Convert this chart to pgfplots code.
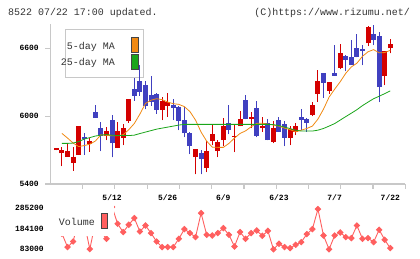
\documentclass[border=0pt]{standalone}
\usepackage{pgfplots}
\pgfplotsset{compat=1.18}
\usepackage{pgfplotstable}
\usepackage{fontspec}
\setmainfont{Liberation Mono}

\definecolor{upred}{RGB}{212,0,0}
\definecolor{downblue}{RGB}{64,64,192}
\definecolor{maorange}{RGB}{240,138,20}
\definecolor{magreen}{RGB}{26,165,26}
\definecolor{volred}{RGB}{255,95,95}
\definecolor{axisgray}{RGB}{200,200,200}
\definecolor{txt}{RGB}{51,51,51}
\definecolor{swatchedge}{RGB}{68,68,68}

% daily candles: index, open, high, low, close
\pgfplotstableread{
i o h l c
0 5700 5714 5700 5714
1 5671 5726 5559 5700
2 5641 5759 5641 5691
3 5588 5724 5517 5641
4 5659 5912 5659 5912
6 5756 5803 5685 5779
9 5826 5903 5788 5868
11 5720 5944 5720 5868
12 5809 5927 5744 5894
13 5953 6150 5941 6150
19 6053 6168 5965 6132
20 6091 6203 5994 6124
25 5638 5709 5486 5709
27 5541 5779 5506 5691
28 5779 5921 5744 5841
29 5691 5788 5638 5771
30 5788 5982 5735 5912
32 5814 5921 5682 5824
33 5912 6044 5912 5974
35 5978 6035 5894 5988
37 5891 5991 5862 5912
39 5771 5956 5762 5897
42 5809 5915 5744 5888
43 5862 5941 5832 5912
46 6009 6124 6000 6097
47 6194 6412 6126 6312
49 6224 6300 6200 6300
51 6424 6635 6415 6556
56 6644 6794 6618 6785
59 6353 6574 6274 6574
60 6600 6679 6556 6635
}\upcandles

\pgfplotstableread{
i o h l c
5 5817 5850 5659 5794
7 6035 6097 5985 5985
8 5894 5944 5691 5826
10 5965 6009 5636 5759
14 6238 6333 6135 6179
15 6309 6450 6179 6212
16 6274 6309 6060 6091
17 6185 6353 6091 6126
18 6194 6203 6020 6053
21 6097 6150 5965 6073
22 6079 6090 5876 5956
23 5965 6079 5815 5847
24 5850 5860 5665 5735
26 5674 5700 5486 5621
31 5938 6097 5841 5876
34 6141 6185 5974 5974
36 6071 6132 5815 5824
38 5941 5974 5788 5788
40 5965 5991 5862 5862
41 5932 5959 5735 5809
44 5991 6062 5876 5965
45 5974 5982 5862 5941
48 6379 6379 6162 6294
50 6379 6629 6356 6356
52 6529 6538 6397 6497
53 6521 6671 6453 6453
54 6600 6724 6521 6521
55 6591 6627 6450 6574
57 6724 6803 6627 6671
58 6706 6741 6124 6256
}\downcandles

% 5-day moving average
\pgfplotstableread{
i v
1 5847
2 5806
3 5762
4 5731
5 5740
6 5752
7 5780
8 5835
9 5830
10 5826
11 5826
12 5836
13 5880
14 5935
15 6018
16 6112
17 6141
18 6154
19 6146
20 6124
21 6110
22 6104
23 6084
24 6040
25 5965
26 5859
27 5779
28 5726
29 5724
30 5724
31 5759
32 5806
33 5847
34 5870
35 5906
36 5936
37 5938
38 5929
39 5921
40 5912
41 5894
42 5881
43 5861
44 5876
45 5891
46 5912
47 5974
48 6062
49 6168
50 6238
51 6304
52 6379
53 6435
54 6468
55 6529
56 6569
57 6588
58 6560
59 6562
60 6582
}\mafive

% 25-day moving average
\pgfplotstableread{
i v
1 5759
2 5759
3 5762
4 5775
5 5797
6 5810
7 5824
8 5832
9 5837
10 5832
11 5828
12 5828
13 5828
14 5832
15 5846
16 5859
17 5872
18 5885
19 5894
20 5903
21 5912
22 5921
23 5927
24 5927
25 5927
26 5927
27 5927
28 5927
29 5927
30 5927
31 5927
32 5927
33 5927
34 5927
35 5927
36 5927
37 5927
38 5927
39 5925
40 5916
41 5903
42 5890
43 5876
44 5868
45 5868
46 5868
47 5876
48 5891
49 5912
50 5934
51 5965
52 5996
53 6026
54 6057
55 6093
56 6124
57 6154
58 6176
59 6199
60 6223
}\matwentyfive

% daily volume
\pgfplotstableread{
i v
0 170000
1 160000
2 93800
3 121500
4 230000
5 215000
6 84000
7 215000
8 170000
9 134800
10 292000
11 208800
12 167800
13 203800
14 236900
15 170800
16 200400
17 162900
18 121500
19 93800
20 93800
21 93800
22 134800
23 182600
24 162900
25 143200
26 261500
27 154500
28 151100
29 162900
30 187600
31 154500
32 96800
33 167800
34 134800
35 162900
36 175700
37 149600
38 174200
39 83000
40 110100
41 93800
42 88900
43 105200
44 118500
45 158000
46 182600
47 281300
48 151100
49 83000
50 151100
51 165900
52 143200
53 138200
54 200400
55 134800
56 138200
57 118500
58 179200
59 129900
60 88900
}\volume

\newcommand{\ticklabelfont}{\fontsize{8}{8}\selectfont\bfseries}
\newcommand{\keyfont}{\fontsize{10}{10}\selectfont}

% candle parts are drawn as vertical error bars with no marks
\pgfplotsset{
  candlepart/.style n args={2}{only marks, mark=*, mark size=0pt,
    mark options={draw=none, fill=none}, forget plot,
    error bars/.cd, y dir=plus, y explicit, error mark=none,
    error bar style={draw=#1, line width=#2}},
}

\begin{document}
\begin{tikzpicture}
\useasboundingbox (0,0) rectangle (420bp,259bp);

% header
\node[anchor=west, inner sep=0pt, text=txt, font=\keyfont] at (8bp,246.3bp) {8522 07/22 17:00 updated.};
\node[anchor=east, inner sep=0pt, text=txt, font=\keyfont] at (410bp,246.3bp) {(C)https://www.rizumu.net/};

% moving-average key (behind the candles)
\draw[axisgray, fill=white, line width=1bp] (65.3bp,181.7bp) rectangle (143.3bp,229bp);
\node[anchor=east, inner sep=0pt, text=txt, font=\keyfont] at (115bp,212.3bp) {5-day MA};
\node[anchor=east, inner sep=0pt, text=txt, font=\keyfont] at (115bp,195.7bp) {25-day MA};
\draw[swatchedge, fill=maorange, line width=1bp] (131bp,206.7bp) rectangle (138.3bp,221.7bp);
\draw[swatchedge, fill=magreen, line width=1bp] (131bp,189.7bp) rectangle (138.3bp,204.7bp);

% price panel
\begin{axis}[
  at={(50.3bp,75bp)}, anchor=south west,
  scale only axis, width=355bp, height=159.7bp,
  xmin=-1.1, xmax=62.7, ymin=5400, ymax=6812,
  axis lines=left,
  axis line style={axisgray, line width=1.2bp, -},
  tick align=outside, major tick length=5bp,
  tick style={axisgray, line width=1.2bp},
  xtick={4.7,10.5,16.3,22.1,27.9,33.7,39.5,45.3,51.1,56.9,62.7},
  xticklabels={},
  ytick={5400,6000,6600}, yticklabels={5400,6000,6600},
  yticklabel style={font=\ticklabelfont, text=black, xshift=-3bp},
  extra x ticks={10,20,30,40,50,60},
  extra x tick labels={5/12,5/26,6/9,6/23,7/7,7/22},
  extra x tick style={major tick length=0pt,
    xticklabel style={font=\ticklabelfont, text=black, anchor=center, yshift=-14bp}},
  clip=false,
]
% wicks
\addplot[candlepart={upred}{1bp}]
  table[x=i, y=l, y error expr=\thisrow{h}-\thisrow{l}] {\upcandles};
\addplot[candlepart={downblue}{1bp}]
  table[x=i, y=l, y error expr=\thisrow{h}-\thisrow{l}] {\downcandles};
% bodies
\addplot[candlepart={upred}{5bp}]
  table[x=i, y=o, y error expr=\thisrow{c}-\thisrow{o}] {\upcandles};
\addplot[candlepart={downblue}{5bp}]
  table[x=i, y=c, y error expr=\thisrow{o}-\thisrow{c}] {\downcandles};
% moving averages
\addplot[maorange, line width=0.8bp, mark=none] table[x=i, y=v] {\mafive};
\addplot[magreen, line width=0.8bp, mark=none] table[x=i, y=v] {\matwentyfive};
\end{axis}

% volume panel
\begin{axis}[
  at={(50.3bp,7bp)}, anchor=south west,
  scale only axis, width=355bp, height=47bp,
  xmin=-1.1, xmax=62.7, ymin=69700, ymax=301500,
  axis line style={draw=none},
  tick style={draw=none}, major tick length=0pt,
  xtick=\empty,
  ytick={83000,184100,285200}, yticklabels={83000,184100,285200},
  scaled y ticks=false,
  yticklabel style={font=\ticklabelfont, text=black, xshift=-3bp},
  clip=false,
]
\addplot[volred, line width=0.9bp, mark=square*,
  mark size=1.9bp, mark options={rotate=45, fill=volred, draw=volred}]
  table[x=i, y=v] {\volume};
\end{axis}

% volume key
\fill[white] (50.5bp,22.5bp) rectangle (113.5bp,56bp);
\node[anchor=west, inner sep=0pt, text=txt, font=\keyfont] at (58.7bp,37bp) {Volume};
\draw[swatchedge, fill=volred, line width=1bp] (101bp,30.7bp) rectangle (107.7bp,45.7bp);
\end{tikzpicture}
\end{document}
